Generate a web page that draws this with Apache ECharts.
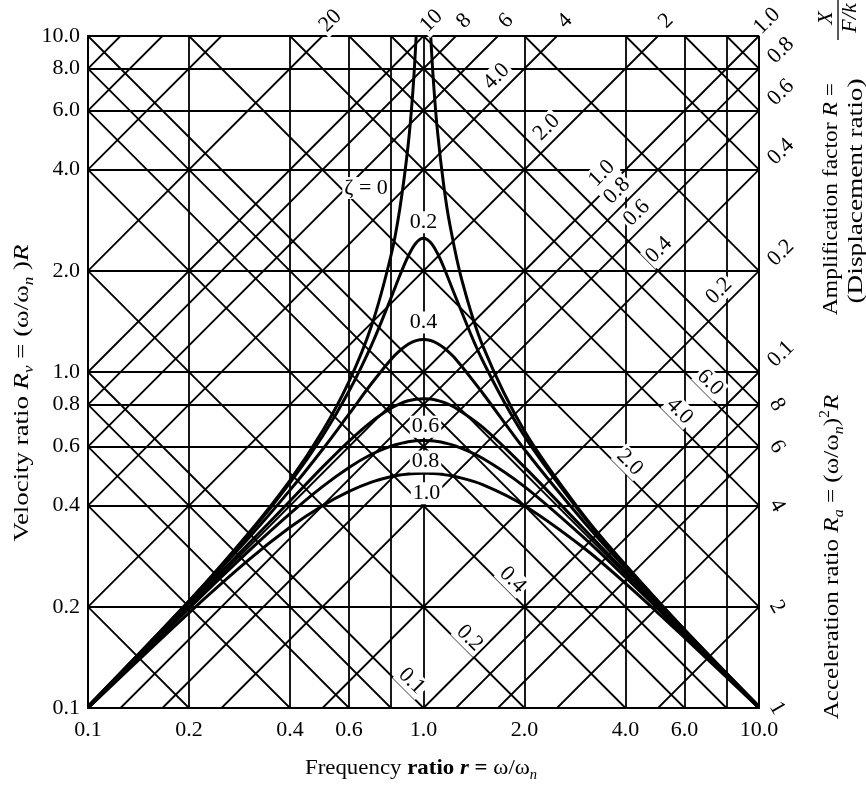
<!DOCTYPE html>
<html><head><meta charset="utf-8">
<script src="https://cdn.jsdelivr.net/npm/echarts@6/dist/echarts.min.js"></script>
<style>html,body{margin:0;background:#fff}#c{width:866px;height:789px}</style>
</head><body><div id="c"></div>
<script>
const SERIF = '"Liberation Serif","DejaVu Serif",serif';

// Frequency ratio samples shared by the damped response curves
const rSamples = [0.1,0.2,0.3,0.4,0.5,0.6,0.7,0.8,0.85,0.9,0.95,1.0,1.05,1.1,1.15,1.25,1.5,2,3,4,6,10];
// Velocity ratio for each damping ratio
const dampingRatios = [0.2, 0.4, 0.6, 0.8, 1.0];
const rvZeta02 = [0.101,0.208,0.327,0.468,0.644,0.878,1.203,1.661,1.937,2.211,2.422,2.5,2.429,2.256,2.047,1.661,1.082,0.644,0.371,0.265,0.171,0.101];
const rvZeta04 = [0.101,0.206,0.319,0.445,0.588,0.75,0.924,1.090,1.157,1.209,1.240,1.25,1.241,1.216,1.180,1.090,0.866,0.588,0.359,0.261,0.170,0.101];
const rvZeta06 = [0.1,0.202,0.307,0.413,0.521,0.623,0.712,0.780,0.804,0.821,0.830,0.833,0.831,0.823,0.812,0.780,0.685,0.521,0.342,0.254,0.168,0.1];
const rvZeta08 = [0.1,0.198,0.292,0.379,0.456,0.520,0.569,0.602,0.612,0.620,0.624,0.625,0.624,0.621,0.616,0.602,0.554,0.456,0.322,0.245,0.165,0.1];
const rvZeta10 = [0.1,0.192,0.275,0.345,0.4,0.441,0.470,0.488,0.494,0.497,0.499,0.5,0.499,0.498,0.495,0.488,0.462,0.4,0.3,0.235,0.162,0.1];
// Undamped response, below and above resonance
const rUndampedLow  = [0.1,0.2,0.3,0.4,0.5,0.6,0.7,0.8,0.85,0.9,0.93,0.951];
const rvUndampedLow = [0.101,0.208,0.330,0.476,0.667,0.938,1.373,2.222,3.063,4.737,6.88,10];
const rUndampedHigh  = [1.051,1.07,1.1,1.15,1.2,1.3,1.5,2,3,4,6,10];
const rvUndampedHigh = [10,7.38,5.24,3.566,2.727,1.884,1.2,0.667,0.375,0.267,0.171,0.101];

// Axis ticks and grid
const xTicks = [0.1,0.2,0.4,0.6,1,2,4,6,10];
const yTicks = [0.1,0.2,0.4,0.6,0.8,1,2,4,6,8,10];
const xGrid = [0.2,0.4,0.6,0.8,1,2,4,6,8];
const yGrid = [0.2,0.4,0.6,0.8,1,2,4,6,8];
// Diagonal grids: displacement ratio R (slope +1) and acceleration ratio Ra (slope -1)
const dispLevels = [0.02,0.04,0.06,0.08,0.1,0.2,0.4,0.6,0.8,1,2,4,6,8,10,20,40,60,80];
const accLevels  = [0.02,0.04,0.06,0.08,0.1,0.2,0.4,0.6,0.8,1,2,4,6,8,10,20,40,60,80];

// Scale labels on the diagonals: [level, text] or [level, text, r where the label sits]
const dispTopLabels = [[20,'20'],[10,'10'],[8,'8'],[6,'6'],[4,'4'],[2,'2'],[1,'1.0']];
const dispRightLabels = [[0.8,'0.8'],[0.6,'0.6'],[0.4,'0.4'],[0.2,'0.2'],[0.1,'0.1']];
const dispInnerLabels = [[4,'4.0',1.651],[2,'2.0',2.33],[1,'1.0',3.4],[0.8,'0.8',3.77],[0.6,'0.6',4.32],[0.4,'0.4',5.03],[0.2,'0.2',7.6]];
const accRightLabels = [[8,'8'],[6,'6'],[4,'4'],[2,'2'],[1,'1']];
const accInnerLabels = [[0.1,'0.1',0.915],[0.2,'0.2',1.363],[0.4,'0.4',1.83],[2,'2.0',4.09],[4,'4.0',5.76],[6,'6.0',7.1]];

const lo = 0.1, hi = 10;
function dispSeg(R) {
  const r1 = Math.max(lo, lo / R), r2 = Math.min(hi, hi / R);
  return { coords: [[r1, R * r1], [r2, R * r2]] };
}
function accSeg(A) {
  const r1 = Math.max(lo, A / hi), r2 = Math.min(hi, A / lo);
  return { coords: [[r1, A / r1], [r2, A / r2]] };
}
const gridLineStyle = { color: '#000', width: 1.8, opacity: 1 };
function linesSeries(data) {
  return { type: 'lines', coordinateSystem: 'cartesian2d', silent: true, z: 2,
    lineStyle: gridLineStyle, data: data, animation: false };
}
const zip = (xs, ys) => xs.map((x, i) => [x, ys[i]]);
function curve(data) {
  return { type: 'line', data: data, smooth: 0.35, showSymbol: false, symbol: 'none',
    lineStyle: { color: '#000', width: 3 }, silent: true, z: 4, animation: false, clip: true };
}

// Label offsets are given on screen; the label frame turns with the text, so convert.
const labelItems = [];
function addLabel(pt, text, rotate, screenOffset) {
  const t = rotate * Math.PI / 180, c = Math.cos(t), s = Math.sin(t);
  const [dx, dy] = screenOffset;
  const off = [dx * c - dy * s, dx * s + dy * c];
  labelItems.push({ value: pt, label: { formatter: text, rotate: rotate, offset: off } });
}
dispTopLabels.forEach(([R, t]) => addLabel([hi / R, hi], t, 45, [8, -15]));
dispRightLabels.forEach(([R, t]) => addLabel([hi, hi * R], t, 45, [22, -18]));
dispInnerLabels.forEach(([R, t, r]) => addLabel([r, R * r], t, 45, [0, -20]));
accRightLabels.forEach(([A, t]) => addLabel([hi, A / hi], t, -60, [18, 0]));
accInnerLabels.forEach(([A, t, r]) => addLabel([r, A / r], t, -45, [1, -14]));

// Damping ratio labels near resonance
const dampLabels = [
  [[0.875, 3.53], 'ζ = 0', [-38, 0]],
  [[1, 2.5], '0.2', [0, -16]],
  [[1, 1.25], '0.4', [0, -17]],
  [[1, 0.833], '0.6', [2, 28]],
  [[1, 0.625], '0.8', [2, 21]],
  [[1, 0.5], '1.0', [3, 20]]
];
dampLabels.forEach(([pt, t, off]) => addLabel(pt, t, 0, off));

const FS = 22;
const tickLabel = { fontFamily: SERIF, fontSize: FS, color: '#000' };
const fmt = v => (+v).toFixed(1);

// Rich-text styles for the axis titles
function titleRich() {
  return {
    i: { fontFamily: SERIF, fontSize: FS, fontStyle: 'italic', fill: '#000', lineHeight: 28 },
    b: { fontFamily: SERIF, fontSize: FS, fontWeight: 'bold', fill: '#000', lineHeight: 28 },
    bi: { fontFamily: SERIF, fontSize: FS, fontWeight: 'bold', fontStyle: 'italic', fill: '#000', lineHeight: 28 },
    s: { fontFamily: SERIF, fontSize: 14, fontStyle: 'italic', fill: '#000', lineHeight: 14, verticalAlign: 'bottom' },
    p: { fontFamily: SERIF, fontSize: 14, fill: '#000', lineHeight: 14, verticalAlign: 'top' }
  };
}
function title(x, y, text, rot, stretch) {
  return { type: 'text', x: x, y: y, rotation: rot, scaleX: stretch,
    style: { text: text, fontFamily: SERIF, fontSize: FS, fill: '#000', align: 'center', verticalAlign: 'middle',
      lineHeight: 28, rich: titleRich() } };
}
const up = Math.PI / 2;

const chart = echarts.init(document.getElementById('c'));
chart.setOption({
  backgroundColor: '#fff',
  animation: false,
  grid: { left: 88, right: 107, top: 36, bottom: 81, show: true, borderColor: '#000', borderWidth: 2, backgroundColor: 'transparent' },
  xAxis: { type: 'log', logBase: 10, min: lo, max: hi,
    axisLine: { show: false }, axisTick: { show: false }, splitLine: { show: false }, minorSplitLine: { show: false },
    axisLabel: Object.assign({ customValues: xTicks, formatter: fmt, margin: 11 }, tickLabel) },
  yAxis: { type: 'log', logBase: 10, min: lo, max: hi,
    axisLine: { show: false }, axisTick: { show: false }, splitLine: { show: false }, minorSplitLine: { show: false },
    axisLabel: Object.assign({ customValues: yTicks, formatter: fmt, margin: 8 }, tickLabel) },
  series: [
    linesSeries(xGrid.map(x => ({ coords: [[x, lo], [x, hi]] }))),
    linesSeries(yGrid.map(y => ({ coords: [[lo, y], [hi, y]] }))),
    linesSeries(dispLevels.map(dispSeg)),
    linesSeries(accLevels.map(accSeg)),
    curve(zip(rUndampedLow, rvUndampedLow)),
    curve(zip(rUndampedHigh, rvUndampedHigh)),
    curve(zip(rSamples, rvZeta02)),
    curve(zip(rSamples, rvZeta04)),
    curve(zip(rSamples, rvZeta06)),
    curve(zip(rSamples, rvZeta08)),
    curve(zip(rSamples, rvZeta10)),
    { type: 'scatter', data: labelItems, symbolSize: 0, itemStyle: { color: '#000', opacity: 1 },
      silent: true, clip: false, z: 6, animation: false,
      label: { show: true, position: 'inside', fontFamily: SERIF, fontSize: FS, color: '#000', opacity: 1,
        textBorderWidth: 0, backgroundColor: '#fff', padding: [0, 2] } }
  ],
  graphic: [
    title(22, 393, 'Velocity ratio {i|R}{s|v} = (ω/ω{s|n} ){i|R}', up, 1.22),
    title(421, 768, 'Frequency {b|ratio }{bi|r}{b| =} ω/ω{s|n}', 0, 1.04),
    title(832, 557, 'Acceleration ratio {i|R}{s|a} = (ω/ω{s|n}){p|2}{i|R}', up, 1.14),
    title(831, 199, 'Amplification factor {i|R} =', up, 1.07),
    title(856, 191, '(Displacement ratio)', up, 1.24),
    { type: 'text', x: 826, y: 18, rotation: up,
      style: { text: 'X', fontFamily: SERIF, fontSize: FS, fontStyle: 'italic', fill: '#000', align: 'center', verticalAlign: 'middle' } },
    { type: 'line', shape: { x1: 838, y1: 0, x2: 838, y2: 40 }, style: { stroke: '#000', lineWidth: 1.3 } },
    { type: 'text', x: 850, y: 18, rotation: up,
      style: { text: 'F/k', fontFamily: SERIF, fontSize: FS, fontStyle: 'italic', fill: '#000', align: 'center', verticalAlign: 'middle' } }
  ]
});
</script></body></html>
